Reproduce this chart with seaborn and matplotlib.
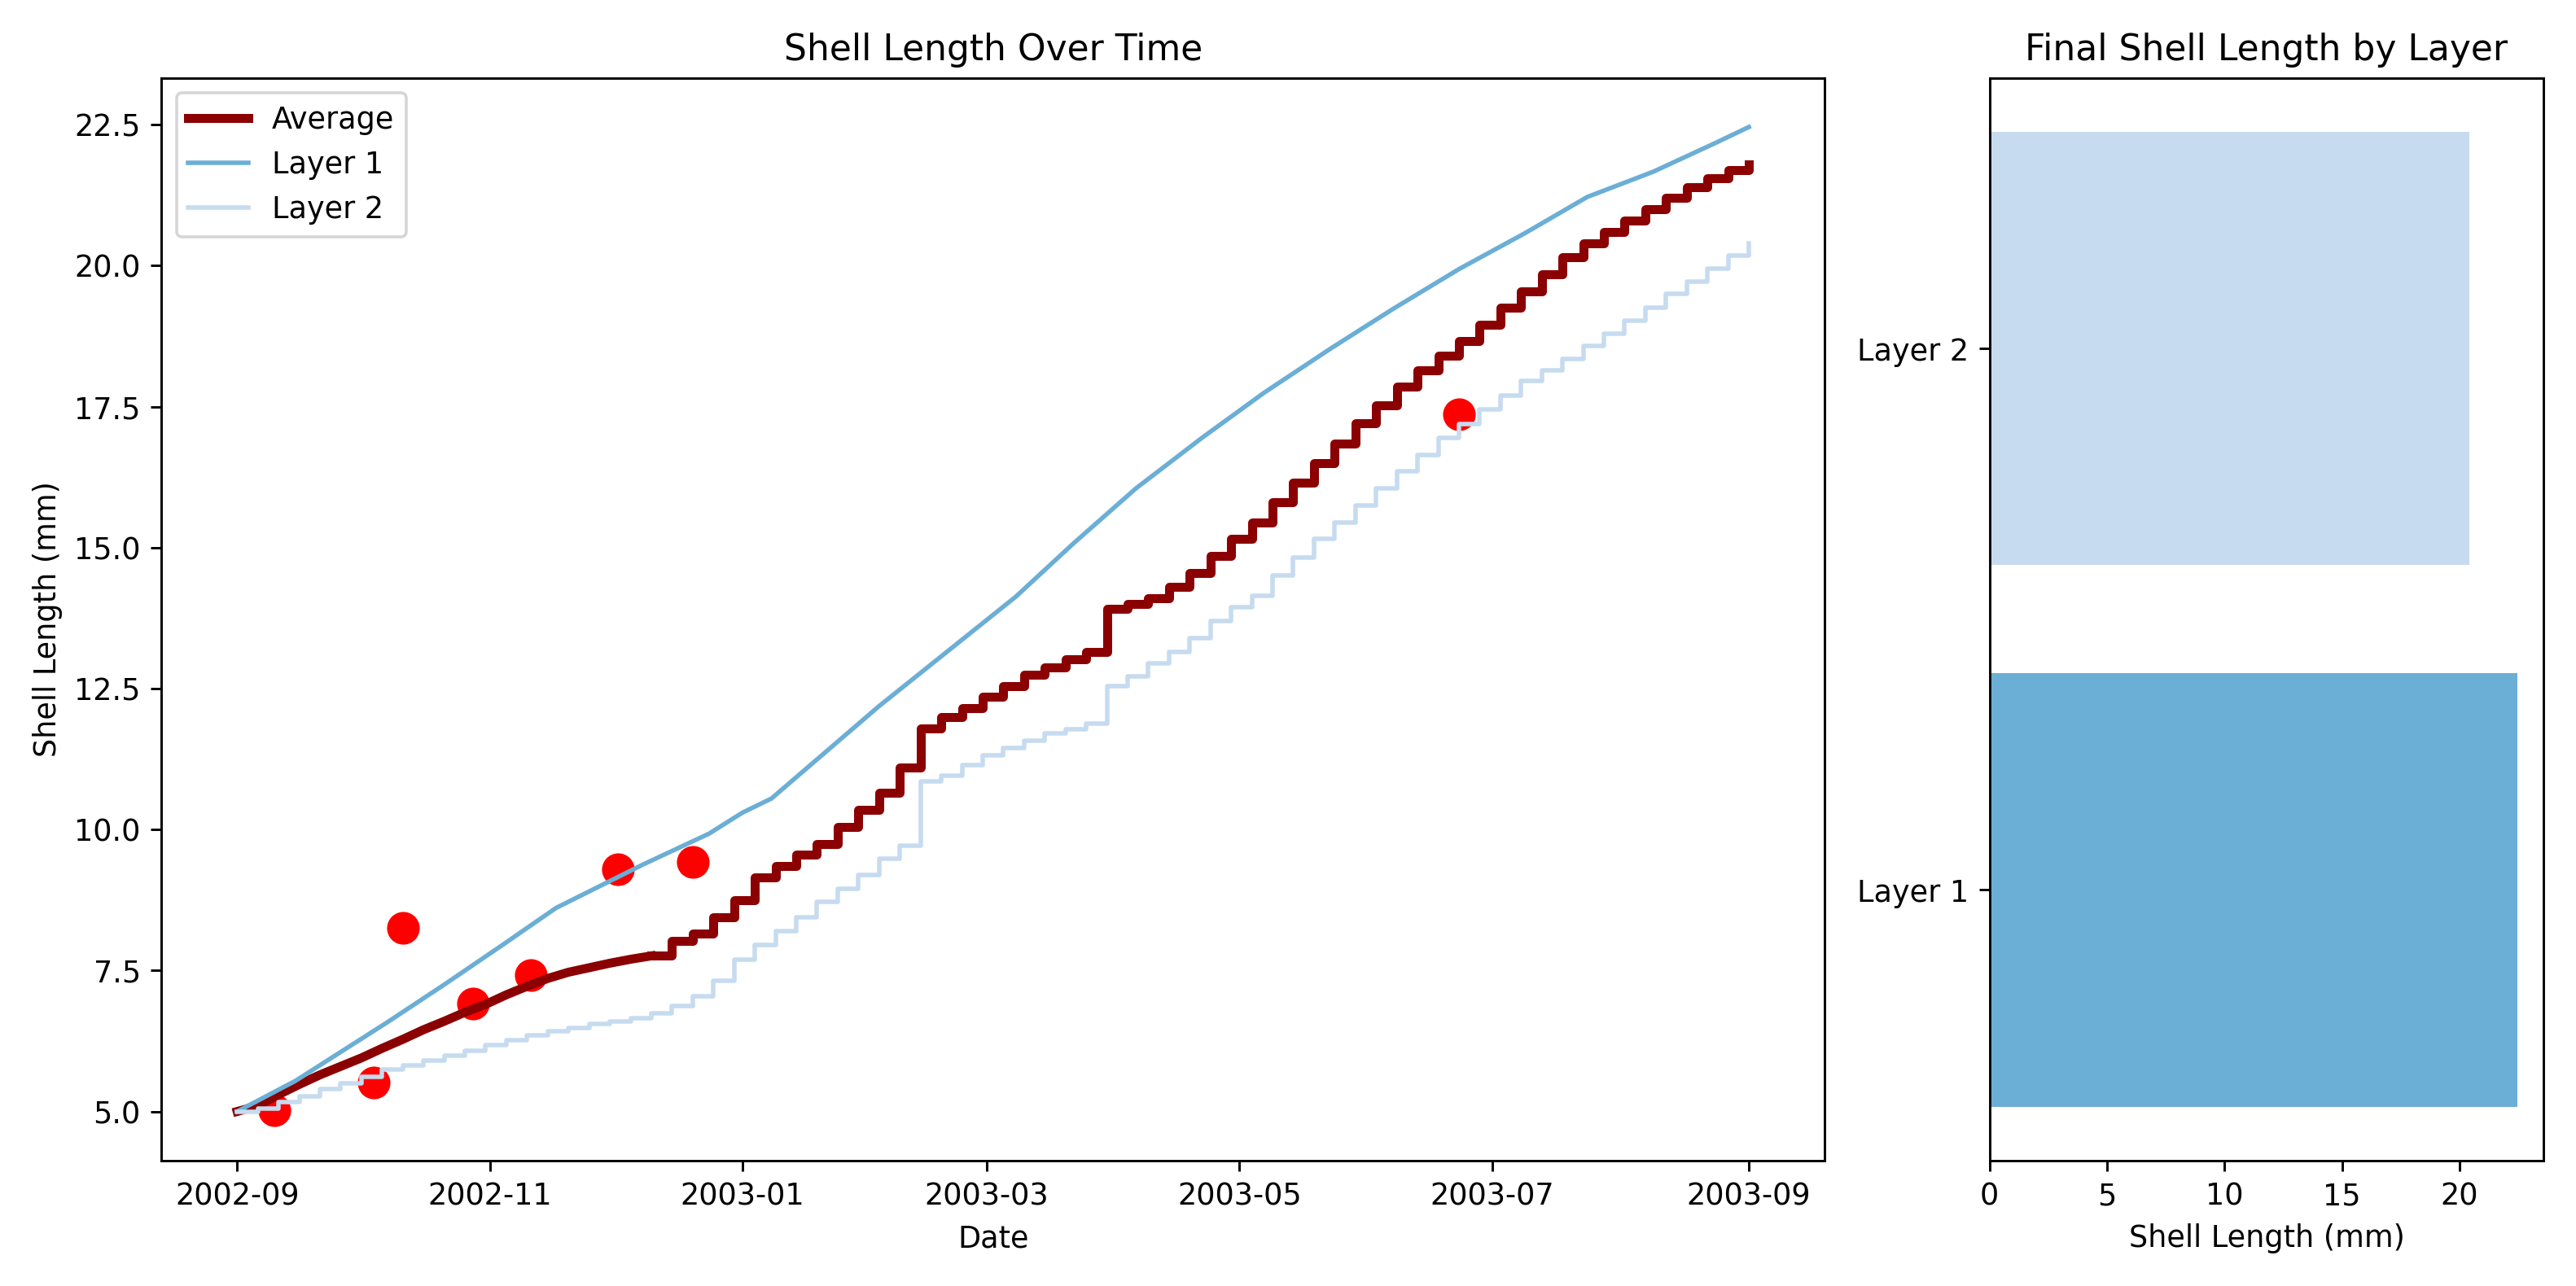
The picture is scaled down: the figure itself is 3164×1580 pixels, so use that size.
import pandas as pd
import matplotlib
matplotlib.use('Agg')
import matplotlib.pyplot as plt
import seaborn as sns

# Данные
# Слой 2 и среднее - каждые 5 дней начиная с 2002-09-01
step_dates = pd.date_range('2002-09-01', periods=74, freq='5D')

layer2 = [5.00, 5.05, 5.17, 5.27, 5.40, 5.50, 5.62, 5.74, 5.82, 5.90,
          5.99, 6.08, 6.18, 6.27, 6.35, 6.42, 6.48, 6.55, 6.60, 6.66,
          6.74, 6.87, 7.05, 7.32, 7.70, 7.95, 8.20, 8.45, 8.72, 8.95,
          9.20, 9.48, 9.72, 10.85, 10.95, 11.15, 11.32, 11.45, 11.58, 11.70,
          11.78, 11.88, 12.55, 12.72, 12.95, 13.15, 13.40, 13.70, 13.95, 14.15,
          14.50, 14.82, 15.15, 15.45, 15.75, 16.05, 16.35, 16.65, 16.95, 17.19,
          17.45, 17.70, 17.95, 18.15, 18.35, 18.58, 18.80, 19.02, 19.25, 19.50,
          19.72, 19.95, 20.18, 20.40]

average = [5.00, 5.10, 5.30, 5.48, 5.65, 5.80, 5.95, 6.12, 6.28, 6.45,
           6.60, 6.76, 6.90, 7.07, 7.22, 7.36, 7.47, 7.55, 7.63, 7.70,
           7.76, 8.02, 8.15, 8.45, 8.75, 9.15, 9.35, 9.55, 9.75, 10.05,
           10.35, 10.65, 11.10, 11.80, 12.00, 12.15, 12.35, 12.55, 12.75, 12.88,
           13.02, 13.15, 13.92, 14.00, 14.10, 14.30, 14.55, 14.85, 15.15, 15.45,
           15.80, 16.15, 16.50, 16.85, 17.20, 17.52, 17.85, 18.15, 18.40, 18.66,
           18.95, 19.25, 19.55, 19.85, 20.15, 20.40, 20.60, 20.80, 21.00, 21.20,
           21.40, 21.55, 21.70, 21.79]

# до начала декабря среднее растёт плавно, потом ступеньками
smooth_until = 20

# Слой 1 - гладкая кривая
layer1_dates = pd.to_datetime(['2002-09-01', '2002-09-15', '2002-10-07', '2002-10-21',
                               '2002-11-04', '2002-11-17', '2002-12-08', '2002-12-24',
                               '2003-01-01', '2003-01-08', '2003-02-03', '2003-03-08',
                               '2003-03-22', '2003-04-06', '2003-04-22', '2003-05-07',
                               '2003-05-23', '2003-06-07', '2003-06-23', '2003-07-09',
                               '2003-07-24', '2003-08-09', '2003-08-24', '2003-09-01'])
layer1 = [5.00, 5.54, 6.57, 7.25, 7.95, 8.61, 9.38, 9.93,
          10.30, 10.55, 12.19, 14.13, 15.08, 16.05, 16.95, 17.75,
          18.53, 19.23, 19.94, 20.58, 21.22, 21.67, 22.18, 22.46]

# Отдельные измерения
sample_dates = pd.to_datetime(['2002-09-10', '2002-10-04', '2002-10-11', '2002-10-28',
                               '2002-11-11', '2002-12-02', '2002-12-20', '2003-06-23'])
sample_values = [5.03, 5.51, 8.25, 6.92, 7.42, 9.29, 9.43, 17.36]

# Итоговая длина по слоям
layers = ['Layer 2', 'Layer 1']
final_length = [20.40, 22.46]
layer_colors = ['#c6dbef', '#6baed6']

fig, (ax1, ax2) = plt.subplots(1, 2, figsize=(3164 / 264, 1580 / 264), dpi=264,
                               gridspec_kw={'width_ratios': [3, 1]})

# Динамика длины раковины
sns.scatterplot(x=sample_dates, y=sample_values, color='red', s=120, linewidth=0, ax=ax1)
sns.lineplot(x=step_dates[:smooth_until + 1], y=average[:smooth_until + 1],
             color='darkred', linewidth=3, label='Average', ax=ax1)
sns.lineplot(x=step_dates[smooth_until:], y=average[smooth_until:],
             color='darkred', linewidth=3, drawstyle='steps-post', ax=ax1)
sns.lineplot(x=layer1_dates, y=layer1, color='#6baed6', linewidth=1.5, label='Layer 1', ax=ax1)
sns.lineplot(x=step_dates, y=layer2, color='#c6dbef', linewidth=1.5, label='Layer 2',
             drawstyle='steps-post', ax=ax1)
ax1.set_title('Shell Length Over Time')
ax1.set_xlabel('Date')
ax1.set_ylabel('Shell Length (mm)')
ax1.legend(loc='upper left')

# Итоговая длина
bar_df = pd.DataFrame({'layer': layers, 'length': final_length})
sns.barplot(data=bar_df, y='layer', x='length', hue='layer', palette=layer_colors,
            saturation=1, orient='h', legend=False, ax=ax2)
ax2.set_title('Final Shell Length by Layer')
ax2.set_xlabel('Shell Length (mm)')
ax2.set_ylabel('')

plt.tight_layout()
plt.savefig('out.png', dpi=264)
